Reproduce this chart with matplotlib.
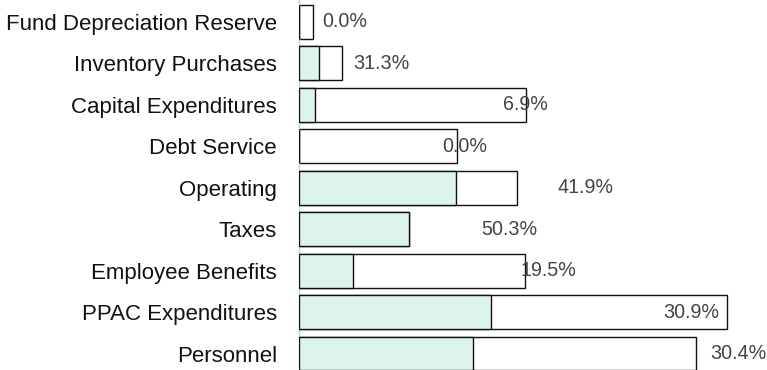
import matplotlib
matplotlib.use("Agg")
import matplotlib.pyplot as plt

categories = ["Fund Depreciation Reserve", "Inventory Purchases", "Capital Expenditures",
              "Debt Service", "Operating", "Taxes", "Employee Benefits",
              "PPAC Expenditures", "Personnel"]
budget = [14, 43, 227, 158, 218, 110, 226, 428, 397]
actual = [0, 20, 16, 0, 157, 110, 54, 192, 174]
pct_labels = ["0.0%", "31.3%", "6.9%", "0.0%", "41.9%", "50.3%", "19.5%", "30.9%", "30.4%"]
label_x = [23, 54, 204, 143, 258, 182, 221, 364, 411]

plt.rcParams['font.family'] = ['Liberation Sans', 'DejaVu Sans']

W, H = 767, 370
fig = plt.figure(figsize=(W / 100, H / 100), dpi=100)
ax = fig.add_axes([299 / W, 0, 1 - 299 / W, 1])

n = len(categories)
ypos = [n - 1 - i for i in range(n)]
bar_h = 0.82

ax.barh(ypos, budget, height=bar_h, color="white", edgecolor="#111111", linewidth=1.0, zorder=2)
ax.barh(ypos, actual, height=bar_h, color="#ddf4ed", edgecolor="#111111", linewidth=1.0, zorder=3)

for y, lx, t in zip(ypos, label_x, pct_labels):
    ax.text(lx, y, t, ha="left", va="center", fontsize=14.2, color="#444444", zorder=4)

ax.set_xlim(0, W - 299)
ax.set_ylim(-16.5 / 41.44, (n - 1) + 22 / 41.44)
ax.set_yticks(ypos)
ax.set_yticklabels(categories, fontsize=16.0, color="#111111")
ax.tick_params(axis="y", length=0, pad=16)
ax.set_xticks([])
for s in ["top", "right", "bottom"]:
    ax.spines[s].set_visible(False)
ax.spines["left"].set_color("#cccccc")
ax.spines["left"].set_linewidth(1.0)

fig.savefig("out.png", dpi=100)
